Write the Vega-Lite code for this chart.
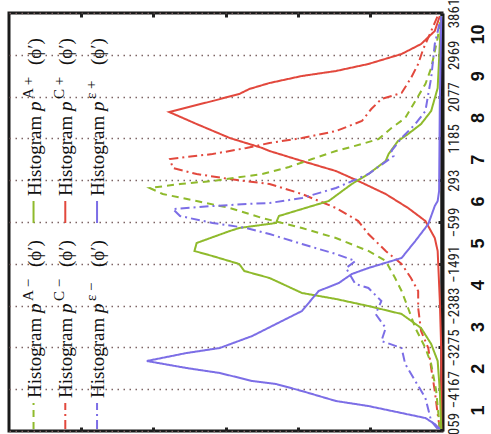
{
  "$schema": "https://vega.github.io/schema/vega-lite/v6.json",
  "width": 433,
  "height": 418,
  "autosize": {"type": "none"},
  "padding": {"left": 9, "top": 13, "right": 49, "bottom": 3},
  "background": "white",
  "config": {"view": {"stroke": "#1a1a1a", "strokeWidth": 3}},
  "datasets": {
    "curves": [
      {"s":"C+","phi":3797,"c":0.03},{"s":"C+","phi":3477,"c":0.10},{"s":"C+","phi":3199,"c":0.29},{"s":"C+","phi":2986,"c":0.56},{"s":"C+","phi":2773,"c":1.02},{"s":"C+","phi":2623,"c":1.47},{"s":"C+","phi":2517,"c":1.94},{"s":"C+","phi":2367,"c":2.39},{"s":"C+","phi":2239,"c":2.67},{"s":"C+","phi":2132,"c":2.81},{"s":"C+","phi":1983,"c":3.18},{"s":"C+","phi":1748,"c":3.78},{"s":"C+","phi":1492,"c":3.40},{"s":"C+","phi":1193,"c":2.94},{"s":"C+","phi":1065,"c":2.67},{"s":"C+","phi":980,"c":2.49},{"s":"C+","phi":916,"c":2.39},{"s":"C+","phi":703,"c":1.94},{"s":"C+","phi":489,"c":1.47},{"s":"C+","phi":276,"c":1.16},{"s":"C+","phi":-2,"c":0.78},{"s":"C+","phi":-300,"c":0.47},{"s":"C+","phi":-578,"c":0.23},{"s":"C+","phi":-941,"c":0.10},{"s":"C+","phi":-1218,"c":0.06},{"s":"C+","phi":-2285,"c":0.03},{"s":"C+","phi":-3352,"c":0.01},{"s":"C+","phi":-5016,"c":0.01},
      {"s":"C-","phi":3797,"c":0.06},{"s":"C-","phi":3477,"c":0.15},{"s":"C-","phi":3093,"c":0.26},{"s":"C-","phi":2773,"c":0.33},{"s":"C-","phi":2474,"c":0.43},{"s":"C-","phi":2154,"c":0.56},{"s":"C-","phi":2026,"c":0.84},{"s":"C-","phi":1812,"c":0.98},{"s":"C-","phi":1556,"c":1.11},{"s":"C-","phi":1342,"c":1.47},{"s":"C-","phi":1193,"c":1.94},{"s":"C-","phi":1087,"c":2.39},{"s":"C-","phi":980,"c":2.71},{"s":"C-","phi":852,"c":3.18},{"s":"C-","phi":745,"c":3.77},{"s":"C-","phi":553,"c":3.73},{"s":"C-","phi":425,"c":3.40},{"s":"C-","phi":318,"c":2.94},{"s":"C-","phi":212,"c":2.39},{"s":"C-","phi":-2,"c":1.94},{"s":"C-","phi":-300,"c":1.47},{"s":"C-","phi":-578,"c":1.16},{"s":"C-","phi":-855,"c":1.02},{"s":"C-","phi":-1218,"c":0.78},{"s":"C-","phi":-1495,"c":0.56},{"s":"C-","phi":-1794,"c":0.43},{"s":"C-","phi":-2072,"c":0.33},{"s":"C-","phi":-2434,"c":0.33},{"s":"C-","phi":-2925,"c":0.29},{"s":"C-","phi":-3288,"c":0.19},{"s":"C-","phi":-3715,"c":0.15},{"s":"C-","phi":-4206,"c":0.10},{"s":"C-","phi":-4697,"c":0.06},{"s":"C-","phi":-5016,"c":0.03},
      {"s":"A-","phi":3797,"c":0.01},{"s":"A-","phi":3327,"c":0.06},{"s":"A-","phi":2687,"c":0.15},{"s":"A-","phi":2346,"c":0.23},{"s":"A-","phi":1983,"c":0.37},{"s":"A-","phi":1620,"c":0.51},{"s":"A-","phi":1407,"c":0.70},{"s":"A-","phi":1172,"c":0.88},{"s":"A-","phi":1065,"c":1.11},{"s":"A-","phi":916,"c":1.47},{"s":"A-","phi":745,"c":1.80},{"s":"A-","phi":575,"c":2.12},{"s":"A-","phi":425,"c":2.49},{"s":"A-","phi":276,"c":3.18},{"s":"A-","phi":212,"c":3.63},{"s":"A-","phi":126,"c":4.05},{"s":"A-","phi":-2,"c":3.87},{"s":"A-","phi":-151,"c":3.40},{"s":"A-","phi":-300,"c":2.94},{"s":"A-","phi":-514,"c":2.49},{"s":"A-","phi":-727,"c":1.94},{"s":"A-","phi":-941,"c":1.47},{"s":"A-","phi":-1218,"c":1.02},{"s":"A-","phi":-1431,"c":0.78},{"s":"A-","phi":-1794,"c":0.65},{"s":"A-","phi":-2072,"c":0.56},{"s":"A-","phi":-2434,"c":0.47},{"s":"A-","phi":-2861,"c":0.37},{"s":"A-","phi":-3288,"c":0.23},{"s":"A-","phi":-3629,"c":0.15},{"s":"A-","phi":-4206,"c":0.08},{"s":"A-","phi":-5016,"c":0.03},
      {"s":"A+","phi":3797,"c":0.01},{"s":"A+","phi":3199,"c":0.03},{"s":"A+","phi":2260,"c":0.06},{"s":"A+","phi":1770,"c":0.15},{"s":"A+","phi":1492,"c":0.29},{"s":"A+","phi":1279,"c":0.47},{"s":"A+","phi":1129,"c":0.61},{"s":"A+","phi":852,"c":0.74},{"s":"A+","phi":703,"c":0.78},{"s":"A+","phi":425,"c":1.02},{"s":"A+","phi":212,"c":1.25},{"s":"A+","phi":-151,"c":1.57},{"s":"A+","phi":-322,"c":1.94},{"s":"A+","phi":-471,"c":2.26},{"s":"A+","phi":-620,"c":2.30},{"s":"A+","phi":-727,"c":2.81},{"s":"A+","phi":-791,"c":2.94},{"s":"A+","phi":-1047,"c":3.40},{"s":"A+","phi":-1218,"c":3.43},{"s":"A+","phi":-1325,"c":3.18},{"s":"A+","phi":-1495,"c":2.81},{"s":"A+","phi":-1645,"c":2.74},{"s":"A+","phi":-1794,"c":2.39},{"s":"A+","phi":-2114,"c":1.94},{"s":"A+","phi":-2242,"c":1.47},{"s":"A+","phi":-2392,"c":1.02},{"s":"A+","phi":-2562,"c":0.56},{"s":"A+","phi":-2861,"c":0.29},{"s":"A+","phi":-3203,"c":0.15},{"s":"A+","phi":-3565,"c":0.06},{"s":"A+","phi":-4206,"c":0.03},{"s":"A+","phi":-5016,"c":0.01},
      {"s":"e-","phi":3797,"c":0.01},{"s":"e-","phi":3199,"c":0.10},{"s":"e-","phi":2474,"c":0.15},{"s":"e-","phi":2132,"c":0.19},{"s":"e-","phi":1770,"c":0.23},{"s":"e-","phi":1492,"c":0.37},{"s":"e-","phi":1193,"c":0.56},{"s":"e-","phi":916,"c":0.70},{"s":"e-","phi":809,"c":0.67},{"s":"e-","phi":425,"c":1.02},{"s":"e-","phi":126,"c":1.47},{"s":"e-","phi":-87,"c":1.94},{"s":"e-","phi":-194,"c":2.39},{"s":"e-","phi":-215,"c":2.71},{"s":"e-","phi":-258,"c":3.18},{"s":"e-","phi":-322,"c":3.73},{"s":"e-","phi":-471,"c":3.63},{"s":"e-","phi":-620,"c":3.18},{"s":"e-","phi":-727,"c":2.71},{"s":"e-","phi":-855,"c":2.39},{"s":"e-","phi":-1069,"c":1.94},{"s":"e-","phi":-1282,"c":1.47},{"s":"e-","phi":-1431,"c":1.20},{"s":"e-","phi":-1581,"c":1.33},{"s":"e-","phi":-1922,"c":1.20},{"s":"e-","phi":-2007,"c":1.02},{"s":"e-","phi":-2285,"c":0.84},{"s":"e-","phi":-2562,"c":0.92},{"s":"e-","phi":-2861,"c":0.78},{"s":"e-","phi":-3139,"c":0.84},{"s":"e-","phi":-3288,"c":0.56},{"s":"e-","phi":-3629,"c":0.51},{"s":"e-","phi":-3992,"c":0.37},{"s":"e-","phi":-4355,"c":0.23},{"s":"e-","phi":-4846,"c":0.15},{"s":"e-","phi":-5016,"c":0.06},
      {"s":"e+","phi":3797,"c":0.01},{"s":"e+","phi":1983,"c":0.03},{"s":"e+","phi":62,"c":0.04},{"s":"e+","phi":-151,"c":0.06},{"s":"e+","phi":-258,"c":0.10},{"s":"e+","phi":-642,"c":0.19},{"s":"e+","phi":-1005,"c":0.37},{"s":"e+","phi":-1367,"c":0.56},{"s":"e+","phi":-1581,"c":1.02},{"s":"e+","phi":-1709,"c":1.25},{"s":"e+","phi":-1901,"c":1.43},{"s":"e+","phi":-2072,"c":1.71},{"s":"e+","phi":-2498,"c":1.94},{"s":"e+","phi":-2776,"c":2.30},{"s":"e+","phi":-3032,"c":2.63},{"s":"e+","phi":-3288,"c":3.08},{"s":"e+","phi":-3395,"c":3.54},{"s":"e+","phi":-3565,"c":4.09},{"s":"e+","phi":-3715,"c":3.54},{"s":"e+","phi":-3821,"c":3.08},{"s":"e+","phi":-3992,"c":2.63},{"s":"e+","phi":-4056,"c":2.30},{"s":"e+","phi":-4206,"c":1.94},{"s":"e+","phi":-4419,"c":1.47},{"s":"e+","phi":-4526,"c":1.02},{"s":"e+","phi":-4675,"c":0.56},{"s":"e+","phi":-4782,"c":0.23},{"s":"e+","phi":-4910,"c":0.10},{"s":"e+","phi":-5016,"c":0.03}
    ],
    "leg": [
      {"s":"A-","sup":"A −","c":5.66,"t":-4355,"r0":-5016,"r1":-4462},
      {"s":"A+","sup":"A +","c":5.66,"t":-44,"r0":-620,"r1":-151},
      {"s":"C-","sup":"C −","c":5.22,"t":-4355,"r0":-5016,"r1":-4462},
      {"s":"C+","sup":"C +","c":5.22,"t":-44,"r0":-620,"r1":-151},
      {"s":"e-","sup":"ε −","c":4.78,"t":-4355,"r0":-5016,"r1":-4462},
      {"s":"e+","sup":"ε +","c":4.78,"t":-44,"r0":-620,"r1":-151}
    ]
  },
  "layer": [
    {
      "data": {"name": "curves"},
      "mark": {"type": "line", "strokeWidth": 2},
      "encoding": {
        "x": {"field": "c", "type": "quantitative",
          "scale": {"domain": [0, 6], "reverse": true, "nice": false, "zero": false},
          "axis": {"orient": "bottom", "labels": false, "grid": false, "domain": false, "values": [1,2,3,4,5], "tickSize": -4, "tickWidth": 3, "tickColor": "#222", "title": null}},
        "y": {"field": "phi", "type": "quantitative",
          "scale": {"domain": [-5059, 3861], "nice": false, "zero": false},
          "axis": {"orient": "right", "title": null, "values": [-5059,-4167,-3275,-2383,-1491,-599,293,1185,2077,2969,3861],
            "labelExpr": "replace(format(datum.value,'d'),'-','–')",
            "labelAngle": -90, "labelAlign": "center", "labelBaseline": "top", "labelPadding": 4,
            "labelFont": "Liberation Sans Narrow, Roboto Condensed, Liberation Sans, sans-serif", "labelFontSize": 15, "labelColor": "#222",
            "labelOverlap": false, "labelFlush": false, "labelBound": false,
            "ticks": false, "domain": true, "domainColor": "#1a1a1a", "domainWidth": 4,
            "grid": true, "gridDash": [1.5, 4.5], "gridColor": "#7d6464", "gridWidth": 1.6, "gridOpacity": 1}},
        "color": {"field": "s", "type": "nominal", "legend": null,
          "scale": {"domain": ["A-","A+","C-","C+","e-","e+"], "range": ["#8fba2c","#8fba2c","#e2483d","#e2483d","#7c6ee6","#7c6ee6"]}},
        "strokeDash": {"field": "s", "type": "nominal", "legend": null,
          "scale": {"domain": ["A-","A+","C-","C+","e-","e+"], "range": [[7,5],[1,0],[9,4,2,4],[1,0],[9,4,2,4],[1,0]]}},
        "order": {"field": "phi", "type": "quantitative"}
      }
    },
    {
      "data": {"name": "leg"},
      "mark": {"type": "rule", "strokeWidth": 2},
      "encoding": {
        "x": {"field": "c", "type": "quantitative",
          "scale": {"domain": [0, 6], "reverse": true, "nice": false, "zero": false},
          "axis": {"orient": "top", "labels": false, "grid": false, "domain": false, "values": [1,2,3,4,5], "tickSize": -4, "tickWidth": 3, "tickColor": "#222", "title": null}},
        "y": {"field": "r0", "type": "quantitative",
          "scale": {"domain": [-5059, 3861], "nice": false, "zero": false},
          "axis": {"orient": "right", "title": null, "labels": false, "grid": false, "domain": false, "values": [-4167,-3275,-2383,-1491,-599,293,1185,2077,2969], "tickSize": -4, "tickWidth": 3, "tickColor": "#222"}},
        "y2": {"field": "r1"},
        "color": {"field": "s", "type": "nominal", "legend": null},
        "strokeDash": {"field": "s", "type": "nominal", "legend": null}
      }
    },
    {
      "data": {"name": "leg"},
      "mark": {"type": "text", "text": "Histogram", "angle": 270, "align": "left", "baseline": "alphabetic", "dy": 7, "font": "Liberation Serif", "fontSize": 19, "color": "#111"},
      "encoding": {
        "x": {"field": "c", "type": "quantitative",
          "scale": {"domain": [0, 6], "reverse": true, "nice": false, "zero": false}, "axis": null},
        "y": {"field": "t", "type": "quantitative",
          "scale": {"domain": [-5059, 3861], "nice": false, "zero": false},
          "axis": {"orient": "right", "title": null, "offset": 24, "values": [-4613,-3721,-2829,-1937,-1045,-153,739,1631,2523,3415],
            "labelExpr": "toString(round((datum.value+5059)/892+0.5))",
            "labelAngle": -90, "labelAlign": "center", "labelBaseline": "top", "labelPadding": 3,
            "labelFont": "Liberation Sans", "labelFontWeight": "bold", "labelFontSize": 18, "labelColor": "#111",
            "labelOverlap": false, "labelFlush": false, "labelBound": false,
            "ticks": false, "tickSize": 0, "domain": false, "grid": false}}
      }
    },
    {
      "data": {"name": "leg"},
      "mark": {"type": "text", "text": "p", "angle": 270, "align": "left", "baseline": "alphabetic", "dx": 85, "dy": 7, "font": "Liberation Serif", "fontStyle": "italic", "fontSize": 19, "color": "#111"},
      "encoding": {
        "x": {"field": "c", "type": "quantitative", "scale": {"domain": [0, 6], "reverse": true, "nice": false, "zero": false}, "axis": null},
        "y": {"field": "t", "type": "quantitative", "scale": {"domain": [-5059, 3861], "nice": false, "zero": false}, "axis": null}
      }
    },
    {
      "data": {"name": "leg"},
      "mark": {"type": "text", "angle": 270, "align": "left", "baseline": "alphabetic", "dx": 97, "dy": -1, "font": "Liberation Serif", "fontSize": 15, "color": "#111"},
      "encoding": {
        "x": {"field": "c", "type": "quantitative", "scale": {"domain": [0, 6], "reverse": true, "nice": false, "zero": false}, "axis": null},
        "y": {"field": "t", "type": "quantitative", "scale": {"domain": [-5059, 3861], "nice": false, "zero": false}, "axis": null},
        "text": {"field": "sup"}
      }
    },
    {
      "data": {"name": "leg"},
      "mark": {"type": "text", "text": "(ϕ′)", "angle": 270, "align": "left", "baseline": "alphabetic", "dx": 131, "dy": 7, "font": "Liberation Serif", "fontSize": 19, "color": "#111"},
      "encoding": {
        "x": {"field": "c", "type": "quantitative", "scale": {"domain": [0, 6], "reverse": true, "nice": false, "zero": false}, "axis": null},
        "y": {"field": "t", "type": "quantitative", "scale": {"domain": [-5059, 3861], "nice": false, "zero": false}, "axis": null}
      }
    }
  ],
  "resolve": {"axis": {"x": "independent", "y": "independent"}}
}
